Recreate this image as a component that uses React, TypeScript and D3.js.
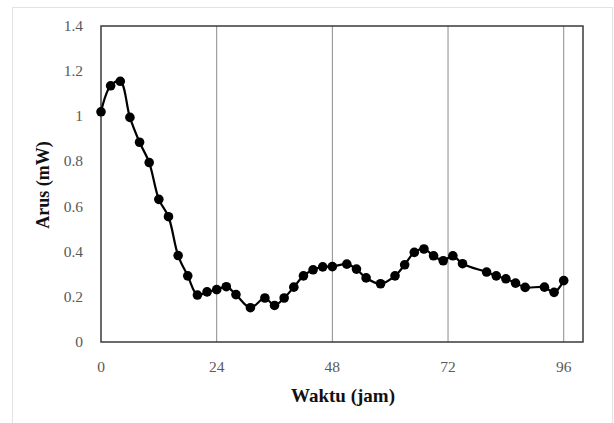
import React, { useEffect, useRef } from "react";
import * as d3 from "d3";

// waktu (jam) dan arus (mW)
const hours = [0, 2, 4, 6, 8, 10, 12, 14, 16, 18, 20, 22, 24, 26, 28, 31, 34, 36, 38, 40, 42, 44, 46, 48, 51, 53, 55, 58, 61, 63, 65, 67, 69, 71, 73, 75, 80, 82, 84, 86, 88, 92, 94, 96];
const current = [1.02, 1.135, 1.155, 0.995, 0.885, 0.795, 0.632, 0.555, 0.383, 0.293, 0.208, 0.222, 0.232, 0.245, 0.21, 0.152, 0.195, 0.162, 0.195, 0.243, 0.293, 0.32, 0.333, 0.334, 0.345, 0.323, 0.284, 0.258, 0.293, 0.342, 0.397, 0.412, 0.382, 0.36, 0.382, 0.347, 0.31, 0.293, 0.28, 0.261, 0.242, 0.243, 0.22, 0.272];
const xTicks = [0, 24, 48, 72, 96];
const yTicks = [0, 0.2, 0.4, 0.6, 0.8, 1, 1.2, 1.4];

const App = () => {
  const svgRef = useRef<SVGSVGElement>(null);

  useEffect(() => {
    const width = 614;
    const height = 423;
    const font = "'Liberation Serif', 'Times New Roman', serif";

    const svg = d3.select(svgRef.current).attr("width", width).attr("height", height);
    svg.selectAll("*").remove();

    const x = d3.scaleLinear().domain([0, 100]).range([101, 583]);
    const y = d3.scaleLinear().domain([0, 1.4]).range([342, 26]);

    svg.append("rect").attr("width", width).attr("height", height).attr("fill", "#fff");
    // chart area border
    svg
      .append("rect")
      .attr("x", 12.5)
      .attr("y", 7.5)
      .attr("width", 600)
      .attr("height", 430)
      .attr("fill", "none")
      .attr("stroke", "#e3e3e3");

    // vertical gridlines
    svg
      .selectAll("line.grid")
      .data(xTicks.filter((d) => d > 0))
      .enter()
      .append("line")
      .attr("x1", (d) => x(d))
      .attr("x2", (d) => x(d))
      .attr("y1", y(1.4))
      .attr("y2", y(0))
      .attr("stroke", "#8c8c8c")
      .attr("stroke-width", 1);

    // plot area box
    svg
      .append("rect")
      .attr("x", x(0))
      .attr("y", y(1.4))
      .attr("width", x(100) - x(0))
      .attr("height", y(0) - y(1.4))
      .attr("fill", "none")
      .attr("stroke", "#3a3a3a")
      .attr("stroke-width", 1.5);

    // tick labels
    svg
      .selectAll("text.xt")
      .data(xTicks)
      .enter()
      .append("text")
      .attr("x", (d) => x(d))
      .attr("y", 372)
      .attr("text-anchor", "middle")
      .attr("font-family", font)
      .attr("font-size", 15.5)
      .attr("fill", "#595959")
      .text((d) => d);

    svg
      .selectAll("text.yt")
      .data(yTicks)
      .enter()
      .append("text")
      .attr("x", 83)
      .attr("y", (d) => y(d) + 5)
      .attr("text-anchor", "end")
      .attr("font-family", font)
      .attr("font-size", 15.5)
      .attr("fill", "#595959")
      .text((d) => d3.format("~g")(d));

    // axis titles
    svg
      .append("text")
      .attr("x", 343)
      .attr("y", 402)
      .attr("text-anchor", "middle")
      .attr("font-family", font)
      .attr("font-weight", "bold")
      .attr("font-size", 19)
      .attr("fill", "#111")
      .text("Waktu (jam)");

    svg
      .append("text")
      .attr("transform", "translate(49,185) rotate(-90)")
      .attr("text-anchor", "middle")
      .attr("font-family", font)
      .attr("font-weight", "bold")
      .attr("font-size", 18)
      .attr("fill", "#111")
      .text("Arus (mW)");

    const data = hours.map((h, i) => [h, current[i]] as [number, number]);

    const line = d3
      .line<[number, number]>()
      .x((d) => x(d[0]))
      .y((d) => y(d[1]))
      .curve(d3.curveCatmullRom.alpha(0.5));

    svg
      .append("path")
      .datum(data)
      .attr("d", line)
      .attr("fill", "none")
      .attr("stroke", "#000")
      .attr("stroke-width", 2.2);

    svg
      .selectAll("circle")
      .data(data)
      .enter()
      .append("circle")
      .attr("cx", (d) => x(d[0]))
      .attr("cy", (d) => y(d[1]))
      .attr("r", 4.8)
      .attr("fill", "#000");
  }, []);

  return <svg ref={svgRef} style={{ position: "absolute", left: 0, top: 0 }}></svg>;
};

export default App;
